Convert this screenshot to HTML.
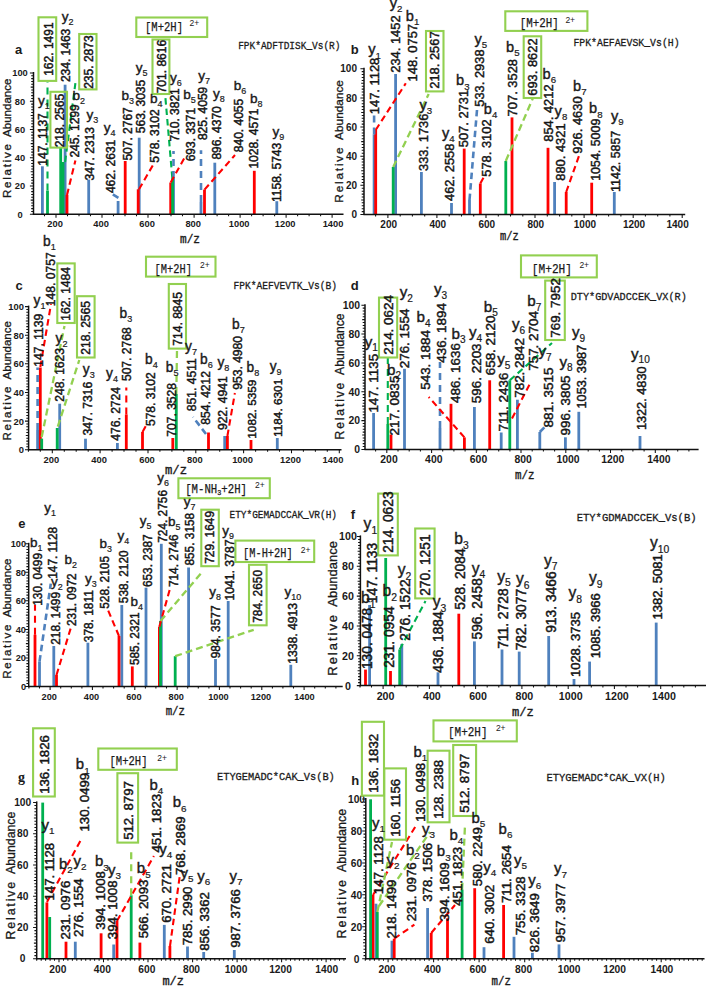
<!DOCTYPE html><html><head><meta charset="utf-8"><style>
*{margin:0;padding:0}
html,body{width:707px;height:987px;overflow:hidden;background:#fff}
svg{display:block}
text{font-family:"Liberation Sans",sans-serif;fill:#1a1a1a}
.let{font-size:13px;font-weight:bold}
.ylab{font-size:11.5px;stroke:#1a1a1a;stroke-width:0.3}
.tick{font-size:9.3px;font-weight:bold}
.mz{font-family:"Liberation Mono",monospace;font-size:12px;stroke:#1a1a1a;stroke-width:0.35}
.pep{font-family:"Liberation Mono",monospace;font-size:11.5px;stroke:#1a1a1a;stroke-width:0.3}
.mtx{font-family:"Liberation Mono",monospace;font-size:12.5px;stroke:#1a1a1a;stroke-width:0.25}
.msup{font-family:"Liberation Sans",sans-serif;font-size:8.5px}
.num{font-size:12.3px;stroke:#111;stroke-width:0.45}
.ion{font-size:14px;stroke:#1a1a1a;stroke-width:0.4}
.sub{font-size:9px;stroke-width:0.2}
.ax{stroke:#111;stroke-width:1.5;fill:none}
.tk{stroke:#111;stroke-width:1.05;fill:none}
.dash{fill:none}
.box{fill:none;stroke:#92d050;stroke-width:2.1}
</style></head><body><svg width="707" height="987" viewBox="0 0 707 987">
<rect width="100%" height="100%" fill="#fff"/>
<text x="15" y="54" class="let">a</text>
<text transform="translate(11.1,198.0) rotate(-90)" class="ylab" style="font-size:11.53px"><tspan letter-spacing="1.75">Relative</tspan><tspan dx="5.51">Abundance</tspan></text>
<rect x="41.0" y="166.3" width="2.8" height="47.9" fill="#4f81bd"/>
<rect x="63.7" y="84.7" width="2.8" height="129.5" fill="#4f81bd"/>
<rect x="87.3" y="179.6" width="2.8" height="34.6" fill="#4f81bd"/>
<rect x="116.7" y="201.0" width="2.8" height="13.2" fill="#4f81bd"/>
<rect x="137.8" y="137.7" width="2.8" height="76.5" fill="#4f81bd"/>
<rect x="172.1" y="178.0" width="2.8" height="36.2" fill="#4f81bd"/>
<rect x="199.6" y="202.0" width="2.8" height="12.2" fill="#4f81bd"/>
<rect x="213.4" y="162.7" width="2.8" height="51.5" fill="#4f81bd"/>
<rect x="275.4" y="201.2" width="2.8" height="13.0" fill="#4f81bd"/>
<rect x="65.6" y="195.0" width="2.8" height="19.2" fill="#ff0000"/>
<rect x="123.8" y="161.0" width="2.8" height="53.2" fill="#ff0000"/>
<rect x="136.8" y="189.3" width="2.8" height="24.9" fill="#ff0000"/>
<rect x="169.3" y="182.5" width="2.8" height="31.7" fill="#ff0000"/>
<rect x="203.1" y="189.6" width="2.8" height="24.6" fill="#ff0000"/>
<rect x="252.9" y="170.8" width="2.8" height="43.4" fill="#ff0000"/>
<rect x="46.1" y="190.6" width="2.8" height="23.6" fill="#00b050"/>
<rect x="59.3" y="148.0" width="2.8" height="66.2" fill="#00b050"/>
<rect x="61.6" y="162.0" width="2.8" height="52.2" fill="#00b050"/>
<rect x="171.2" y="177.8" width="2.8" height="36.4" fill="#00b050"/>
<line x1="47.5" y1="190.6" x2="47.5" y2="82" stroke="#00b050" stroke-width="2.1" stroke-dasharray="7 5" class="dash"/>
<line x1="65.1" y1="162" x2="75.4" y2="83.2" stroke="#00b050" stroke-width="2.1" stroke-dasharray="6.5 4" class="dash"/>
<line x1="67" y1="195" x2="75.4" y2="160.4" stroke="#ff0000" stroke-width="2.1" stroke-dasharray="6.5 4" class="dash"/>
<line x1="118.4" y1="197.8" x2="111.3" y2="193.5" stroke="#4f81bd" stroke-width="2.6" stroke-dasharray="6.5 4" class="dash"/>
<line x1="139" y1="189.3" x2="153.7" y2="163.8" stroke="#ff0000" stroke-width="2.1" stroke-dasharray="6.5 4" class="dash"/>
<line x1="172.3" y1="177.8" x2="165.2" y2="95.3" stroke="#00b050" stroke-width="2.1" stroke-dasharray="6.5 4" class="dash"/>
<line x1="173.5" y1="178" x2="173.5" y2="151" stroke="#4f81bd" stroke-width="2.6" stroke-dasharray="7 5" class="dash"/>
<line x1="170.7" y1="182.5" x2="185.6" y2="155.8" stroke="#ff0000" stroke-width="2.1" stroke-dasharray="6.5 4" class="dash"/>
<line x1="201" y1="202" x2="201" y2="150.3" stroke="#4f81bd" stroke-width="2.6" stroke-dasharray="7 5" class="dash"/>
<line x1="204.5" y1="189.6" x2="235" y2="155" stroke="#ff0000" stroke-width="2.1" stroke-dasharray="6.5 4" class="dash"/>
<line x1="33.5" y1="72.0" x2="33.5" y2="214.8" class="ax"/>
<line x1="32.9" y1="214.2" x2="343.5" y2="214.2" class="ax"/>
<path d="M29.9 214.2H33.5M31.2 211.4H33.5M31.2 208.6H33.5M31.2 205.7H33.5M31.2 202.9H33.5M30.7 200.1H33.5M31.2 197.3H33.5M31.2 194.4H33.5M31.2 191.6H33.5M31.2 188.8H33.5M29.9 186.0H33.5M31.2 183.1H33.5M31.2 180.3H33.5M31.2 177.5H33.5M31.2 174.7H33.5M30.7 171.8H33.5M31.2 169.0H33.5M31.2 166.2H33.5M31.2 163.4H33.5M31.2 160.5H33.5M29.9 157.7H33.5M31.2 154.9H33.5M31.2 152.1H33.5M31.2 149.2H33.5M31.2 146.4H33.5M30.7 143.6H33.5M31.2 140.8H33.5M31.2 138.0H33.5M31.2 135.1H33.5M31.2 132.3H33.5M29.9 129.5H33.5M31.2 126.7H33.5M31.2 123.8H33.5M31.2 121.0H33.5M31.2 118.2H33.5M30.7 115.4H33.5M31.2 112.5H33.5M31.2 109.7H33.5M31.2 106.9H33.5M31.2 104.1H33.5M29.9 101.2H33.5M31.2 98.4H33.5M31.2 95.6H33.5M31.2 92.8H33.5M31.2 89.9H33.5M30.7 87.1H33.5M31.2 84.3H33.5M31.2 81.5H33.5M31.2 78.6H33.5M31.2 75.8H33.5M29.9 73.0H33.5" class="tk"/>
<text x="20.0" y="217.5" class="tick" style="font-size:9.30px" text-anchor="middle">0</text>
<text x="20.0" y="189.3" class="tick" style="font-size:9.30px" text-anchor="middle">20</text>
<text x="20.0" y="161.1" class="tick" style="font-size:9.30px" text-anchor="middle">40</text>
<text x="20.0" y="132.8" class="tick" style="font-size:9.30px" text-anchor="middle">60</text>
<text x="20.0" y="104.6" class="tick" style="font-size:9.30px" text-anchor="middle">80</text>
<text x="20.0" y="76.3" class="tick" style="font-size:9.30px" text-anchor="middle">100</text>
<path d="M44.5 214.2V216.2M56.0 214.2V217.7M67.5 214.2V216.2M79.0 214.2V216.2M90.5 214.2V216.2M102.0 214.2V217.7M113.5 214.2V216.2M125.0 214.2V216.2M136.5 214.2V216.2M148.0 214.2V217.7M159.5 214.2V216.2M171.0 214.2V216.2M182.5 214.2V216.2M194.1 214.2V217.7M205.6 214.2V216.2M217.1 214.2V216.2M228.6 214.2V216.2M240.1 214.2V217.7M251.6 214.2V216.2M263.1 214.2V216.2M274.6 214.2V216.2M286.1 214.2V217.7M297.6 214.2V216.2M309.1 214.2V216.2M320.6 214.2V216.2M332.1 214.2V217.7" class="tk"/>
<text x="55.1" y="227.4" class="tick" style="font-size:9.30px" text-anchor="middle">200</text>
<text x="101.1" y="227.4" class="tick" style="font-size:9.30px" text-anchor="middle">400</text>
<text x="147.1" y="227.4" class="tick" style="font-size:9.30px" text-anchor="middle">600</text>
<text x="193.2" y="227.4" class="tick" style="font-size:9.30px" text-anchor="middle">800</text>
<text x="239.2" y="227.4" class="tick" style="font-size:9.30px" text-anchor="middle">1000</text>
<text x="285.2" y="227.4" class="tick" style="font-size:9.30px" text-anchor="middle">1200</text>
<text x="333.0" y="227.4" class="tick" style="font-size:9.30px" text-anchor="middle">1400</text>
<text x="180" y="243.0" class="mz" textLength="20.0" lengthAdjust="spacingAndGlyphs">m/z</text>
<text x="238.2" y="48.6" class="pep" textLength="102.3" lengthAdjust="spacingAndGlyphs">FPK*ADFTDISK_Vs(R)</text>
<rect x="136.3" y="17.5" width="70.9" height="19.5" class="box"/>
<rect x="38.5" y="17.3" width="17.7" height="63.6" class="box"/>
<rect x="79.2" y="34" width="17.3" height="55.4" class="box"/>
<rect x="50.4" y="91.8" width="16.6" height="55.8" class="box"/>
<rect x="152.5" y="39.5" width="16.9" height="54.5" class="box"/>
<text x="145" y="30.5" class="mtx" textLength="38.0" lengthAdjust="spacingAndGlyphs">[M+2H]</text>
<text x="189.5" y="26.0" class="msup">2+</text>
<text transform="translate(52.6,75.8) rotate(-90)" class="num" style="font-size:12.00px">162. 1491</text>
<text transform="translate(69.7,82.1) rotate(-90)" class="num" style="font-size:12.00px">234. 1463</text>
<text transform="translate(93.1,88.8) rotate(-90)" class="num" style="font-size:12.00px">235. 2873</text>
<text transform="translate(63.6,147.3) rotate(-90)" class="num" style="font-size:12.00px">218. 2565</text>
<text transform="translate(46.5,165.7) rotate(-90)" class="num" style="font-size:12.00px">147. 1137</text>
<text transform="translate(79.0,157.6) rotate(-90)" class="num" style="font-size:12.00px">245. 1299</text>
<text transform="translate(94.4,180.4) rotate(-90)" class="num" style="font-size:12.00px">347. 2313</text>
<text transform="translate(114.5,193.1) rotate(-90)" class="num" style="font-size:12.00px">462. 2631</text>
<text transform="translate(131.5,160.6) rotate(-90)" class="num" style="font-size:12.00px">507. 2767</text>
<text transform="translate(144.9,133.2) rotate(-90)" class="num" style="font-size:12.00px">563. 3035</text>
<text transform="translate(159.4,162.7) rotate(-90)" class="num" style="font-size:12.00px">578. 3102</text>
<text transform="translate(166.3,93.3) rotate(-90)" class="num" style="font-size:12.00px">701. 8616</text>
<text transform="translate(179.0,141.6) rotate(-90)" class="num" style="font-size:12.00px">710. 3821</text>
<text transform="translate(195.3,161.3) rotate(-90)" class="num" style="font-size:12.00px">693. 3371</text>
<text transform="translate(207.3,140.1) rotate(-90)" class="num" style="font-size:12.00px">825. 4059</text>
<text transform="translate(221.1,159.6) rotate(-90)" class="num" style="font-size:12.00px">896. 4370</text>
<text transform="translate(242.5,152.2) rotate(-90)" class="num" style="font-size:12.00px">840. 4055</text>
<text transform="translate(258.3,168.6) rotate(-90)" class="num" style="font-size:12.00px">1028. 4571</text>
<text transform="translate(280.5,202.0) rotate(-90)" class="num" style="font-size:12.00px">1158. 5743</text>
<text x="61.8" y="21.2" class="ion" style="font-size:13.60px">y<tspan class="sub" style="font-size:9.00px" dy="4.0">2</tspan></text>
<text x="38" y="104.6" class="ion" style="font-size:13.60px">y<tspan class="sub" style="font-size:9.00px" dy="4.0">1</tspan></text>
<text x="72.5" y="100.0" class="ion" style="font-size:13.60px">b<tspan class="sub" style="font-size:9.00px" dy="4.0">2</tspan></text>
<text x="86.5" y="119.3" class="ion" style="font-size:13.60px">y<tspan class="sub" style="font-size:9.00px" dy="4.0">3</tspan></text>
<text x="103.8" y="131.5" class="ion" style="font-size:13.60px">y<tspan class="sub" style="font-size:9.00px" dy="4.0">4</tspan></text>
<text x="121.5" y="100.1" class="ion" style="font-size:13.60px">b<tspan class="sub" style="font-size:9.00px" dy="4.0">3</tspan></text>
<text x="135.8" y="72.0" class="ion" style="font-size:13.60px">y<tspan class="sub" style="font-size:9.00px" dy="4.0">5</tspan></text>
<text x="150" y="102.9" class="ion" style="font-size:13.60px">b<tspan class="sub" style="font-size:9.00px" dy="4.0">4</tspan></text>
<text x="169.9" y="81.5" class="ion" style="font-size:13.60px">y<tspan class="sub" style="font-size:9.00px" dy="4.0">6</tspan></text>
<text x="183.3" y="99.2" class="ion" style="font-size:13.60px">b<tspan class="sub" style="font-size:9.00px" dy="4.0">5</tspan></text>
<text x="198.2" y="80.0" class="ion" style="font-size:13.60px">y<tspan class="sub" style="font-size:9.00px" dy="4.0">7</tspan></text>
<text x="213" y="98.0" class="ion" style="font-size:13.60px">y<tspan class="sub" style="font-size:9.00px" dy="4.0">8</tspan></text>
<text x="233.8" y="89.8" class="ion" style="font-size:13.60px">b<tspan class="sub" style="font-size:9.00px" dy="4.0">6</tspan></text>
<text x="250" y="103.4" class="ion" style="font-size:13.60px">b<tspan class="sub" style="font-size:9.00px" dy="4.0">8</tspan></text>
<text x="272.5" y="136.0" class="ion" style="font-size:13.60px">y<tspan class="sub" style="font-size:9.00px" dy="4.0">9</tspan></text>
<text x="350.7" y="54" class="let">b</text>
<text transform="translate(343.3,202.7) rotate(-90)" class="ylab" style="font-size:11.84px"><tspan letter-spacing="1.80">Relative</tspan><tspan dx="5.66">Abundance</tspan></text>
<rect x="372.7" y="134.4" width="2.8" height="80.1" fill="#4f81bd"/>
<rect x="394.2" y="74.0" width="2.8" height="140.5" fill="#4f81bd"/>
<rect x="420.0" y="172.0" width="2.8" height="42.5" fill="#4f81bd"/>
<rect x="450.1" y="203.0" width="2.8" height="11.5" fill="#4f81bd"/>
<rect x="468.1" y="200.0" width="2.8" height="14.5" fill="#4f81bd"/>
<rect x="553.2" y="182.0" width="2.8" height="32.5" fill="#4f81bd"/>
<rect x="612.9" y="192.0" width="2.8" height="22.5" fill="#4f81bd"/>
<rect x="374.3" y="130.0" width="2.8" height="84.5" fill="#ff0000"/>
<rect x="462.8" y="148.6" width="2.8" height="65.9" fill="#ff0000"/>
<rect x="478.9" y="183.5" width="2.8" height="31.0" fill="#ff0000"/>
<rect x="510.6" y="117.4" width="2.8" height="97.1" fill="#ff0000"/>
<rect x="546.6" y="147.8" width="2.8" height="66.7" fill="#ff0000"/>
<rect x="564.8" y="192.0" width="2.8" height="22.5" fill="#ff0000"/>
<rect x="590.3" y="182.7" width="2.8" height="31.8" fill="#ff0000"/>
<rect x="391.8" y="167.0" width="2.8" height="47.5" fill="#00b050"/>
<rect x="504.4" y="161.0" width="2.8" height="53.5" fill="#00b050"/>
<line x1="374.1" y1="134.4" x2="374.1" y2="113" stroke="#4f81bd" stroke-width="2.6" stroke-dasharray="7 5" class="dash"/>
<line x1="375.7" y1="130" x2="405.8" y2="83.3" stroke="#ff0000" stroke-width="2.1" stroke-dasharray="6.5 4" class="dash"/>
<line x1="393.2" y1="167" x2="428.7" y2="94" stroke="#92d050" stroke-width="2.3" stroke-dasharray="7 4" class="dash"/>
<line x1="469.5" y1="200" x2="477" y2="110" stroke="#4f81bd" stroke-width="2.6" stroke-dasharray="6.5 4" class="dash"/>
<line x1="480.3" y1="183.5" x2="485" y2="175" stroke="#ff0000" stroke-width="2.1" stroke-dasharray="6.5 4" class="dash"/>
<line x1="505.8" y1="161" x2="533" y2="98" stroke="#92d050" stroke-width="2.3" stroke-dasharray="7 4" class="dash"/>
<line x1="566.2" y1="192" x2="579.3" y2="155" stroke="#ff0000" stroke-width="2.1" stroke-dasharray="6.5 4" class="dash"/>
<line x1="364.0" y1="67.7" x2="364.0" y2="215.1" class="ax"/>
<line x1="363.4" y1="214.5" x2="685.2" y2="214.5" class="ax"/>
<path d="M360.4 214.5H364.0M361.7 211.6H364.0M361.7 208.7H364.0M361.7 205.8H364.0M361.7 202.8H364.0M361.2 199.9H364.0M361.7 197.0H364.0M361.7 194.1H364.0M361.7 191.2H364.0M361.7 188.3H364.0M360.4 185.3H364.0M361.7 182.4H364.0M361.7 179.5H364.0M361.7 176.6H364.0M361.7 173.7H364.0M361.2 170.8H364.0M361.7 167.8H364.0M361.7 164.9H364.0M361.7 162.0H364.0M361.7 159.1H364.0M360.4 156.2H364.0M361.7 153.3H364.0M361.7 150.3H364.0M361.7 147.4H364.0M361.7 144.5H364.0M361.2 141.6H364.0M361.7 138.7H364.0M361.7 135.8H364.0M361.7 132.9H364.0M361.7 129.9H364.0M360.4 127.0H364.0M361.7 124.1H364.0M361.7 121.2H364.0M361.7 118.3H364.0M361.7 115.4H364.0M361.2 112.4H364.0M361.7 109.5H364.0M361.7 106.6H364.0M361.7 103.7H364.0M361.7 100.8H364.0M360.4 97.9H364.0M361.7 94.9H364.0M361.7 92.0H364.0M361.7 89.1H364.0M361.7 86.2H364.0M361.2 83.3H364.0M361.7 80.4H364.0M361.7 77.4H364.0M361.7 74.5H364.0M361.7 71.6H364.0M360.4 68.7H364.0" class="tk"/>
<text x="357.0" y="218.1" class="tick" style="font-size:10.01px" text-anchor="end">0</text>
<text x="357.0" y="188.9" class="tick" style="font-size:10.01px" text-anchor="end">20</text>
<text x="357.0" y="159.8" class="tick" style="font-size:10.01px" text-anchor="end">40</text>
<text x="357.0" y="130.6" class="tick" style="font-size:10.01px" text-anchor="end">60</text>
<text x="357.0" y="101.5" class="tick" style="font-size:10.01px" text-anchor="end">80</text>
<text x="357.0" y="72.3" class="tick" style="font-size:10.01px" text-anchor="end">100</text>
<path d="M375.6 214.5V216.5M387.9 214.5V218.0M400.2 214.5V216.5M412.4 214.5V216.5M424.7 214.5V216.5M436.9 214.5V218.0M449.2 214.5V216.5M461.5 214.5V216.5M473.7 214.5V216.5M486.0 214.5V218.0M498.3 214.5V216.5M510.5 214.5V216.5M522.8 214.5V216.5M535.0 214.5V218.0M547.3 214.5V216.5M559.6 214.5V216.5M571.8 214.5V216.5M584.1 214.5V218.0M596.4 214.5V216.5M608.6 214.5V216.5M620.9 214.5V216.5M633.2 214.5V218.0M645.4 214.5V216.5M657.7 214.5V216.5M669.9 214.5V216.5M682.2 214.5V218.0" class="tk"/>
<text x="388.7" y="228.2" class="tick" style="font-size:10.01px" text-anchor="middle">200</text>
<text x="437.8" y="228.2" class="tick" style="font-size:10.01px" text-anchor="middle">400</text>
<text x="486.8" y="228.2" class="tick" style="font-size:10.01px" text-anchor="middle">600</text>
<text x="535.8" y="228.2" class="tick" style="font-size:10.01px" text-anchor="middle">800</text>
<text x="584.9" y="228.2" class="tick" style="font-size:10.01px" text-anchor="middle">1000</text>
<text x="634.0" y="228.2" class="tick" style="font-size:10.01px" text-anchor="middle">1200</text>
<text x="677.6" y="228.2" class="tick" style="font-size:10.01px" text-anchor="middle">1400</text>
<text x="500" y="239.7" class="mz" textLength="18.7" lengthAdjust="spacingAndGlyphs">m/z</text>
<text x="573.4" y="46.0" class="pep" textLength="106.2" lengthAdjust="spacingAndGlyphs">FPK*AEFAEVSK_Vs(H)</text>
<rect x="505.3" y="11.3" width="82.1" height="19.6" class="box"/>
<rect x="426" y="31" width="17.5" height="60.4" class="box"/>
<rect x="523.7" y="36.3" width="17.5" height="61.7" class="box"/>
<text x="519.7" y="27.3" class="mtx" textLength="39.0" lengthAdjust="spacingAndGlyphs">[M+2H]</text>
<text x="565.4" y="22.8" class="msup">2+</text>
<text transform="translate(379.0,114.2) rotate(-90)" class="num" style="font-size:12.91px">147. 1128</text>
<text transform="translate(399.7,72.8) rotate(-90)" class="num" style="font-size:12.91px">234. 1452</text>
<text transform="translate(417.2,81.4) rotate(-90)" class="num" style="font-size:12.91px">148. 0757</text>
<text transform="translate(439.4,88.8) rotate(-90)" class="num" style="font-size:12.91px">218. 2567</text>
<text transform="translate(428.3,171.0) rotate(-90)" class="num" style="font-size:12.91px">333. 1736</text>
<text transform="translate(454.1,201.0) rotate(-90)" class="num" style="font-size:12.91px">462. 2558</text>
<text transform="translate(468.2,147.3) rotate(-90)" class="num" style="font-size:12.91px">507. 2731</text>
<text transform="translate(484.4,106.8) rotate(-90)" class="num" style="font-size:12.91px">533. 2938</text>
<text transform="translate(491.1,176.8) rotate(-90)" class="num" style="font-size:12.91px">578. 3102</text>
<text transform="translate(516.6,116.4) rotate(-90)" class="num" style="font-size:12.91px">707. 3528</text>
<text transform="translate(537.1,95.8) rotate(-90)" class="num" style="font-size:12.91px">693. 8622</text>
<text transform="translate(552.6,141.8) rotate(-90)" class="num" style="font-size:12.91px">854. 4212</text>
<text transform="translate(564.6,180.8) rotate(-90)" class="num" style="font-size:12.91px">880. 4321</text>
<text transform="translate(582.1,153.8) rotate(-90)" class="num" style="font-size:12.91px">926. 4630</text>
<text transform="translate(599.5,180.8) rotate(-90)" class="num" style="font-size:12.42px">1054. 5009</text>
<text transform="translate(620.3,191.9) rotate(-90)" class="num" style="font-size:12.42px">1142. 5857</text>
<text x="368.2" y="54.4" class="ion" style="font-size:14.63px">y<tspan class="sub" style="font-size:9.68px" dy="4.3">1</tspan></text>
<text x="389.7" y="8.0" class="ion" style="font-size:14.63px">y<tspan class="sub" style="font-size:9.68px" dy="4.3">2</tspan></text>
<text x="405.8" y="20.6" class="ion" style="font-size:14.63px">b<tspan class="sub" style="font-size:9.68px" dy="4.3">1</tspan></text>
<text x="419.5" y="109.8" class="ion" style="font-size:14.63px">y<tspan class="sub" style="font-size:9.68px" dy="4.3">3</tspan></text>
<text x="442" y="137.7" class="ion" style="font-size:14.63px">y<tspan class="sub" style="font-size:9.68px" dy="4.3">4</tspan></text>
<text x="456" y="85.2" class="ion" style="font-size:14.63px">b<tspan class="sub" style="font-size:9.68px" dy="4.3">3</tspan></text>
<text x="474.4" y="43.7" class="ion" style="font-size:14.63px">y<tspan class="sub" style="font-size:9.68px" dy="4.3">5</tspan></text>
<text x="483.8" y="113.6" class="ion" style="font-size:14.63px">b<tspan class="sub" style="font-size:9.68px" dy="4.3">4</tspan></text>
<text x="506" y="51.6" class="ion" style="font-size:14.63px">b<tspan class="sub" style="font-size:9.68px" dy="4.3">5</tspan></text>
<text x="542.5" y="78.6" class="ion" style="font-size:14.63px">b<tspan class="sub" style="font-size:9.68px" dy="4.3">6</tspan></text>
<text x="554.6" y="116.0" class="ion" style="font-size:14.63px">y<tspan class="sub" style="font-size:9.68px" dy="4.3">8</tspan></text>
<text x="573" y="90.6" class="ion" style="font-size:14.63px">b<tspan class="sub" style="font-size:9.68px" dy="4.3">7</tspan></text>
<text x="589.1" y="113.2" class="ion" style="font-size:14.63px">b<tspan class="sub" style="font-size:9.68px" dy="4.3">8</tspan></text>
<text x="611" y="120.5" class="ion" style="font-size:14.63px">y<tspan class="sub" style="font-size:9.68px" dy="4.3">9</tspan></text>
<text x="15.6" y="290" class="let">c</text>
<text transform="translate(10.6,440.5) rotate(-90)" class="ylab" style="font-size:11.52px"><tspan letter-spacing="1.75">Relative</tspan><tspan dx="5.51">Abundance</tspan></text>
<rect x="36.2" y="430.0" width="2.8" height="19.7" fill="#4f81bd"/>
<rect x="58.3" y="403.7" width="2.8" height="46.0" fill="#4f81bd"/>
<rect x="84.1" y="438.7" width="2.8" height="11.0" fill="#4f81bd"/>
<rect x="116.0" y="443.0" width="2.8" height="6.7" fill="#4f81bd"/>
<rect x="223.3" y="436.0" width="2.8" height="13.7" fill="#4f81bd"/>
<rect x="275.9" y="438.0" width="2.8" height="11.7" fill="#4f81bd"/>
<rect x="38.9" y="367.5" width="2.8" height="82.2" fill="#ff0000"/>
<rect x="124.9" y="414.5" width="2.8" height="35.2" fill="#ff0000"/>
<rect x="141.1" y="432.0" width="2.8" height="17.7" fill="#ff0000"/>
<rect x="171.4" y="438.0" width="2.8" height="11.7" fill="#ff0000"/>
<rect x="207.1" y="432.5" width="2.8" height="17.2" fill="#ff0000"/>
<rect x="226.0" y="436.0" width="2.8" height="13.7" fill="#ff0000"/>
<rect x="249.6" y="440.0" width="2.8" height="9.7" fill="#ff0000"/>
<rect x="40.3" y="438.6" width="2.8" height="11.1" fill="#00b050"/>
<rect x="55.8" y="428.0" width="2.8" height="21.7" fill="#00b050"/>
<rect x="174.9" y="394.0" width="2.8" height="55.7" fill="#00b050"/>
<line x1="37.6" y1="430" x2="37.6" y2="367.4" stroke="#4f81bd" stroke-width="2.6" stroke-dasharray="7 5" class="dash"/>
<line x1="40.3" y1="367" x2="51" y2="304" stroke="#ff0000" stroke-width="2.1" stroke-dasharray="6.5 4" class="dash"/>
<line x1="41.7" y1="437" x2="64.5" y2="326" stroke="#92d050" stroke-width="2.3" stroke-dasharray="7 4" class="dash"/>
<line x1="57.8" y1="426.6" x2="79.3" y2="360" stroke="#92d050" stroke-width="2.3" stroke-dasharray="7 4" class="dash"/>
<line x1="126.3" y1="414.5" x2="126.3" y2="387.6" stroke="#ff0000" stroke-width="2.1" stroke-dasharray="7 5" class="dash"/>
<line x1="142.5" y1="432" x2="147" y2="424" stroke="#ff0000" stroke-width="2.1" stroke-dasharray="6.5 4" class="dash"/>
<line x1="176.3" y1="394" x2="177" y2="350" stroke="#92d050" stroke-width="2.3" stroke-dasharray="7 5" class="dash"/>
<line x1="206" y1="434" x2="193" y2="417" stroke="#4f81bd" stroke-width="2.6" stroke-dasharray="6.5 4" class="dash"/>
<line x1="227.4" y1="436" x2="234.9" y2="393" stroke="#ff0000" stroke-width="2.1" stroke-dasharray="6.5 4" class="dash"/>
<line x1="28.6" y1="305.6" x2="28.6" y2="450.3" class="ax"/>
<line x1="28.0" y1="449.7" x2="341.5" y2="449.7" class="ax"/>
<path d="M25.0 449.7H28.6M26.3 446.8H28.6M26.3 444.0H28.6M26.3 441.1H28.6M26.3 438.3H28.6M25.8 435.4H28.6M26.3 432.5H28.6M26.3 429.7H28.6M26.3 426.8H28.6M26.3 423.9H28.6M25.0 421.1H28.6M26.3 418.2H28.6M26.3 415.4H28.6M26.3 412.5H28.6M26.3 409.6H28.6M25.8 406.8H28.6M26.3 403.9H28.6M26.3 401.0H28.6M26.3 398.2H28.6M26.3 395.3H28.6M25.0 392.5H28.6M26.3 389.6H28.6M26.3 386.7H28.6M26.3 383.9H28.6M26.3 381.0H28.6M25.8 378.1H28.6M26.3 375.3H28.6M26.3 372.4H28.6M26.3 369.6H28.6M26.3 366.7H28.6M25.0 363.8H28.6M26.3 361.0H28.6M26.3 358.1H28.6M26.3 355.3H28.6M26.3 352.4H28.6M25.8 349.5H28.6M26.3 346.7H28.6M26.3 343.8H28.6M26.3 340.9H28.6M26.3 338.1H28.6M25.0 335.2H28.6M26.3 332.4H28.6M26.3 329.5H28.6M26.3 326.6H28.6M26.3 323.8H28.6M25.8 320.9H28.6M26.3 318.0H28.6M26.3 315.2H28.6M26.3 312.3H28.6M26.3 309.5H28.6M25.0 306.6H28.6" class="tk"/>
<text x="24.0" y="453.1" class="tick" style="font-size:9.39px" text-anchor="end">0</text>
<text x="24.0" y="424.5" class="tick" style="font-size:9.39px" text-anchor="end">20</text>
<text x="24.0" y="395.8" class="tick" style="font-size:9.39px" text-anchor="end">40</text>
<text x="24.0" y="367.2" class="tick" style="font-size:9.39px" text-anchor="end">60</text>
<text x="24.0" y="338.6" class="tick" style="font-size:9.39px" text-anchor="end">80</text>
<text x="24.0" y="310.0" class="tick" style="font-size:9.39px" text-anchor="end">100</text>
<path d="M28.4 449.7V451.7M40.3 449.7V451.7M52.3 449.7V453.2M64.3 449.7V451.7M76.2 449.7V451.7M88.2 449.7V451.7M100.1 449.7V453.2M112.1 449.7V451.7M124.0 449.7V451.7M136.0 449.7V451.7M148.0 449.7V453.2M159.9 449.7V451.7M171.9 449.7V451.7M183.8 449.7V451.7M195.8 449.7V453.2M207.8 449.7V451.7M219.7 449.7V451.7M231.7 449.7V451.7M243.6 449.7V453.2M255.6 449.7V451.7M267.6 449.7V451.7M279.5 449.7V451.7M291.5 449.7V453.2M303.4 449.7V451.7M315.4 449.7V451.7M327.3 449.7V451.7M339.3 449.7V453.2" class="tk"/>
<text x="51.3" y="463.0" class="tick" style="font-size:9.39px" text-anchor="middle">200</text>
<text x="99.1" y="463.0" class="tick" style="font-size:9.39px" text-anchor="middle">400</text>
<text x="147.0" y="463.0" class="tick" style="font-size:9.39px" text-anchor="middle">600</text>
<text x="194.8" y="463.0" class="tick" style="font-size:9.39px" text-anchor="middle">800</text>
<text x="242.6" y="463.0" class="tick" style="font-size:9.39px" text-anchor="middle">1000</text>
<text x="290.5" y="463.0" class="tick" style="font-size:9.39px" text-anchor="middle">1200</text>
<text x="333.0" y="463.0" class="tick" style="font-size:9.39px" text-anchor="middle">1400</text>
<text x="165" y="474.0" class="mz" textLength="22.0" lengthAdjust="spacingAndGlyphs">m/z</text>
<text x="233.5" y="289.3" class="pep" textLength="103.5" lengthAdjust="spacingAndGlyphs">FPK*AEFVEVTK_Vs(B)</text>
<rect x="146" y="256.7" width="69.5" height="19.9" class="box"/>
<rect x="57.3" y="263.4" width="17.4" height="59.6" class="box"/>
<rect x="77" y="296.2" width="17.6" height="61.3" class="box"/>
<rect x="168.8" y="284" width="17.2" height="64.6" class="box"/>
<text x="154.6" y="272.5" class="mtx" textLength="37.3" lengthAdjust="spacingAndGlyphs">[M+2H]</text>
<text x="200" y="268.0" class="msup">2+</text>
<text transform="translate(55.4,306.2) rotate(-90)" class="num" style="font-size:12.12px">148. 0757</text>
<text transform="translate(43.4,366.8) rotate(-90)" class="num" style="font-size:12.12px">147. 1139</text>
<text transform="translate(70.4,320.8) rotate(-90)" class="num" style="font-size:12.12px">162. 1484</text>
<text transform="translate(90.2,354.8) rotate(-90)" class="num" style="font-size:12.12px">218. 2565</text>
<text transform="translate(64.1,401.8) rotate(-90)" class="num" style="font-size:12.12px">248. 1623</text>
<text transform="translate(92.4,435.6) rotate(-90)" class="num" style="font-size:12.12px">347. 7316</text>
<text transform="translate(120.0,440.8) rotate(-90)" class="num" style="font-size:12.12px">476. 2724</text>
<text transform="translate(130.7,381.1) rotate(-90)" class="num" style="font-size:12.12px">507. 2768</text>
<text transform="translate(155.4,426.1) rotate(-90)" class="num" style="font-size:12.12px">578. 3102</text>
<text transform="translate(176.4,436.8) rotate(-90)" class="num" style="font-size:12.12px">707. 3528</text>
<text transform="translate(181.8,345.8) rotate(-90)" class="num" style="font-size:12.12px">714. 8845</text>
<text transform="translate(196.3,411.2) rotate(-90)" class="num" style="font-size:12.12px">851. 4511</text>
<text transform="translate(209.7,424.8) rotate(-90)" class="num" style="font-size:12.12px">854. 4212</text>
<text transform="translate(227.2,430.1) rotate(-90)" class="num" style="font-size:12.12px">922. 4941</text>
<text transform="translate(242.0,389.8) rotate(-90)" class="num" style="font-size:12.12px">953. 4980</text>
<text transform="translate(255.9,438.7) rotate(-90)" class="num" style="font-size:11.82px">1082. 5359</text>
<text transform="translate(281.9,437.0) rotate(-90)" class="num" style="font-size:11.82px">1184. 6301</text>
<text x="43" y="245.6" class="ion" style="font-size:13.74px">b<tspan class="sub" style="font-size:9.09px" dy="4.0">1</tspan></text>
<text x="33.6" y="305.0" class="ion" style="font-size:13.74px">y<tspan class="sub" style="font-size:9.09px" dy="4.0">1</tspan></text>
<text x="55.6" y="342.6" class="ion" style="font-size:13.74px">y<tspan class="sub" style="font-size:9.09px" dy="4.0">2</tspan></text>
<text x="82.8" y="373.5" class="ion" style="font-size:13.74px">y<tspan class="sub" style="font-size:9.09px" dy="4.0">3</tspan></text>
<text x="106" y="377.5" class="ion" style="font-size:13.74px">y<tspan class="sub" style="font-size:9.09px" dy="4.0">4</tspan></text>
<text x="119.6" y="318.3" class="ion" style="font-size:13.74px">b<tspan class="sub" style="font-size:9.09px" dy="4.0">3</tspan></text>
<text x="145" y="364.0" class="ion" style="font-size:13.74px">b<tspan class="sub" style="font-size:9.09px" dy="4.0">4</tspan></text>
<text x="165.8" y="372.1" class="ion" style="font-size:13.74px">b<tspan class="sub" style="font-size:9.09px" dy="4.0">5</tspan></text>
<text x="185" y="350.6" class="ion" style="font-size:13.74px">y<tspan class="sub" style="font-size:9.09px" dy="4.0">7</tspan></text>
<text x="200" y="364.0" class="ion" style="font-size:13.74px">b<tspan class="sub" style="font-size:9.09px" dy="4.0">6</tspan></text>
<text x="217.4" y="366.7" class="ion" style="font-size:13.74px">y<tspan class="sub" style="font-size:9.09px" dy="4.0">8</tspan></text>
<text x="232" y="329.1" class="ion" style="font-size:13.74px">b<tspan class="sub" style="font-size:9.09px" dy="4.0">7</tspan></text>
<text x="246.5" y="372.0" class="ion" style="font-size:13.74px">b<tspan class="sub" style="font-size:9.09px" dy="4.0">8</tspan></text>
<text x="269.7" y="370.5" class="ion" style="font-size:13.74px">y<tspan class="sub" style="font-size:9.09px" dy="4.0">9</tspan></text>
<text x="350.7" y="290" class="let">d</text>
<text transform="translate(343.8,439.5) rotate(-90)" class="ylab" style="font-size:12.16px"><tspan letter-spacing="1.85">Relative</tspan><tspan dx="5.82">Abundance</tspan></text>
<rect x="372.2" y="413.0" width="2.8" height="36.4" fill="#4f81bd"/>
<rect x="403.1" y="368.8" width="2.8" height="80.6" fill="#4f81bd"/>
<rect x="438.6" y="428.0" width="2.8" height="21.4" fill="#4f81bd"/>
<rect x="473.0" y="407.0" width="2.8" height="42.4" fill="#4f81bd"/>
<rect x="499.8" y="432.5" width="2.8" height="16.9" fill="#4f81bd"/>
<rect x="516.0" y="399.7" width="2.8" height="49.7" fill="#4f81bd"/>
<rect x="538.4" y="432.0" width="2.8" height="17.4" fill="#4f81bd"/>
<rect x="564.0" y="437.3" width="2.8" height="12.1" fill="#4f81bd"/>
<rect x="577.4" y="411.8" width="2.8" height="37.6" fill="#4f81bd"/>
<rect x="638.6" y="436.0" width="2.8" height="13.4" fill="#4f81bd"/>
<rect x="389.6" y="434.6" width="2.8" height="14.8" fill="#ff0000"/>
<rect x="449.6" y="403.8" width="2.8" height="45.6" fill="#ff0000"/>
<rect x="463.0" y="437.4" width="2.8" height="12.0" fill="#ff0000"/>
<rect x="488.3" y="380.3" width="2.8" height="69.1" fill="#ff0000"/>
<rect x="386.4" y="424.0" width="2.8" height="25.4" fill="#00b050"/>
<rect x="508.4" y="380.3" width="2.8" height="69.1" fill="#00b050"/>
<line x1="387.8" y1="424" x2="387.8" y2="358" stroke="#00b050" stroke-width="2.1" stroke-dasharray="7 5" class="dash"/>
<line x1="440" y1="428" x2="440" y2="362" stroke="#4f81bd" stroke-width="2.6" stroke-dasharray="7 5" class="dash"/>
<line x1="464.4" y1="437.4" x2="428.7" y2="397" stroke="#ff0000" stroke-width="2.1" stroke-dasharray="6.5 4" class="dash"/>
<line x1="509.8" y1="380.3" x2="552" y2="343" stroke="#00b050" stroke-width="2.1" stroke-dasharray="6.5 4" class="dash"/>
<line x1="512" y1="418.5" x2="530" y2="383.6" stroke="#ff0000" stroke-width="2.1" stroke-dasharray="6.5 4" class="dash"/>
<line x1="539.8" y1="432" x2="545.2" y2="426.6" stroke="#4f81bd" stroke-width="2.6" stroke-dasharray="6.5 4" class="dash"/>
<line x1="365.0" y1="304.2" x2="365.0" y2="450.0" class="ax"/>
<line x1="364.4" y1="449.4" x2="698.6" y2="449.4" class="ax"/>
<path d="M361.4 449.4H365.0M362.7 446.5H365.0M362.7 443.6H365.0M362.7 440.7H365.0M362.7 437.9H365.0M362.2 435.0H365.0M362.7 432.1H365.0M362.7 429.2H365.0M362.7 426.3H365.0M362.7 423.4H365.0M361.4 420.6H365.0M362.7 417.7H365.0M362.7 414.8H365.0M362.7 411.9H365.0M362.7 409.0H365.0M362.2 406.1H365.0M362.7 403.3H365.0M362.7 400.4H365.0M362.7 397.5H365.0M362.7 394.6H365.0M361.4 391.7H365.0M362.7 388.8H365.0M362.7 386.0H365.0M362.7 383.1H365.0M362.7 380.2H365.0M362.2 377.3H365.0M362.7 374.4H365.0M362.7 371.5H365.0M362.7 368.6H365.0M362.7 365.8H365.0M361.4 362.9H365.0M362.7 360.0H365.0M362.7 357.1H365.0M362.7 354.2H365.0M362.7 351.3H365.0M362.2 348.5H365.0M362.7 345.6H365.0M362.7 342.7H365.0M362.7 339.8H365.0M362.7 336.9H365.0M361.4 334.0H365.0M362.7 331.2H365.0M362.7 328.3H365.0M362.7 325.4H365.0M362.7 322.5H365.0M362.2 319.6H365.0M362.7 316.7H365.0M362.7 313.9H365.0M362.7 311.0H365.0M362.7 308.1H365.0M361.4 305.2H365.0" class="tk"/>
<text x="360.0" y="453.1" class="tick" style="font-size:10.42px" text-anchor="end">0</text>
<text x="360.0" y="424.3" class="tick" style="font-size:10.42px" text-anchor="end">20</text>
<text x="360.0" y="395.5" class="tick" style="font-size:10.42px" text-anchor="end">40</text>
<text x="360.0" y="366.6" class="tick" style="font-size:10.42px" text-anchor="end">60</text>
<text x="360.0" y="337.8" class="tick" style="font-size:10.42px" text-anchor="end">80</text>
<text x="360.0" y="308.9" class="tick" style="font-size:10.42px" text-anchor="end">100</text>
<path d="M375.6 449.4V451.4M386.8 449.4V452.9M398.0 449.4V451.4M409.2 449.4V451.4M420.4 449.4V451.4M431.6 449.4V452.9M442.7 449.4V451.4M453.9 449.4V451.4M465.1 449.4V451.4M476.3 449.4V452.9M487.5 449.4V451.4M498.7 449.4V451.4M509.9 449.4V451.4M521.0 449.4V452.9M532.2 449.4V451.4M543.4 449.4V451.4M554.6 449.4V451.4M565.8 449.4V452.9M577.0 449.4V451.4M588.2 449.4V451.4M599.4 449.4V451.4M610.5 449.4V452.9M621.7 449.4V451.4M632.9 449.4V451.4M644.1 449.4V451.4M655.3 449.4V452.9M666.5 449.4V451.4M677.7 449.4V451.4M688.9 449.4V451.4" class="tk"/>
<text x="389.0" y="463.4" class="tick" style="font-size:10.42px" text-anchor="middle">200</text>
<text x="433.8" y="463.4" class="tick" style="font-size:10.42px" text-anchor="middle">400</text>
<text x="478.5" y="463.4" class="tick" style="font-size:10.42px" text-anchor="middle">600</text>
<text x="523.2" y="463.4" class="tick" style="font-size:10.42px" text-anchor="middle">800</text>
<text x="568.0" y="463.4" class="tick" style="font-size:10.42px" text-anchor="middle">1000</text>
<text x="612.8" y="463.4" class="tick" style="font-size:10.42px" text-anchor="middle">1200</text>
<text x="658.9" y="463.4" class="tick" style="font-size:10.42px" text-anchor="middle">1400</text>
<text x="515" y="479.0" class="mz" textLength="19.5" lengthAdjust="spacingAndGlyphs">m/z</text>
<text x="570.7" y="300.0" class="pep" textLength="116.1" lengthAdjust="spacingAndGlyphs">DTY*GDVADCCEK_VX(R)</text>
<rect x="521" y="255.4" width="75.8" height="22.0" class="box"/>
<rect x="379" y="297.6" width="18.2" height="59.9" class="box"/>
<rect x="545.2" y="280.6" width="19.6" height="59.4" class="box"/>
<text x="531.8" y="272.5" class="mtx" textLength="40.2" lengthAdjust="spacingAndGlyphs">[M+2H]</text>
<text x="579.4" y="268.0" class="msup">2+</text>
<text transform="translate(392.8,354.8) rotate(-90)" class="num" style="font-size:13.44px">214. 0624</text>
<text transform="translate(409.3,368.3) rotate(-90)" class="num" style="font-size:13.44px">276. 1554</text>
<text transform="translate(378.4,412.6) rotate(-90)" class="num" style="font-size:13.44px">147. 1135</text>
<text transform="translate(398.5,435.4) rotate(-90)" class="num" style="font-size:13.44px">217. 0835</text>
<text transform="translate(429.5,389.8) rotate(-90)" class="num" style="font-size:13.44px">543. 1884</text>
<text transform="translate(446.4,362.8) rotate(-90)" class="num" style="font-size:13.44px">436. 1894</text>
<text transform="translate(460.2,402.9) rotate(-90)" class="num" style="font-size:13.44px">486. 1636</text>
<text transform="translate(480.5,403.2) rotate(-90)" class="num" style="font-size:13.44px">596. 2203</text>
<text transform="translate(495.3,375.3) rotate(-90)" class="num" style="font-size:13.44px">658. 2120</text>
<text transform="translate(507.8,431.4) rotate(-90)" class="num" style="font-size:13.44px">711. 2436</text>
<text transform="translate(523.5,397.8) rotate(-90)" class="num" style="font-size:13.44px">782. 2842</text>
<text transform="translate(537.8,370.8) rotate(-90)" class="num" style="font-size:13.44px">757. 2704</text>
<text transform="translate(559.8,337.8) rotate(-90)" class="num" style="font-size:13.44px">769. 7952</text>
<text transform="translate(552.8,427.4) rotate(-90)" class="num" style="font-size:13.44px">881. 3515</text>
<text transform="translate(570.2,435.4) rotate(-90)" class="num" style="font-size:13.44px">996. 3805</text>
<text transform="translate(585.6,408.5) rotate(-90)" class="num" style="font-size:12.72px">1053. 3987</text>
<text transform="translate(645.8,430.1) rotate(-90)" class="num" style="font-size:12.72px">1322. 4830</text>
<text x="364.7" y="346.6" class="ion" style="font-size:15.23px">y<tspan class="sub" style="font-size:10.08px" dy="4.5">1</tspan></text>
<text x="387" y="374.6" class="ion" style="font-size:15.23px">b<tspan class="sub" style="font-size:10.08px" dy="4.5">2</tspan></text>
<text x="399.7" y="297.4" class="ion" style="font-size:15.23px">y<tspan class="sub" style="font-size:10.08px" dy="4.5">2</tspan></text>
<text x="416.6" y="322.3" class="ion" style="font-size:15.23px">b<tspan class="sub" style="font-size:10.08px" dy="4.5">4</tspan></text>
<text x="434" y="294.0" class="ion" style="font-size:15.23px">y<tspan class="sub" style="font-size:10.08px" dy="4.5">3</tspan></text>
<text x="451.5" y="338.6" class="ion" style="font-size:15.23px">b<tspan class="sub" style="font-size:10.08px" dy="4.5">3</tspan></text>
<text x="469" y="337.0" class="ion" style="font-size:15.23px">y<tspan class="sub" style="font-size:10.08px" dy="4.5">4</tspan></text>
<text x="483.8" y="311.6" class="ion" style="font-size:15.23px">b<tspan class="sub" style="font-size:10.08px" dy="4.5">5</tspan></text>
<text x="497.2" y="364.0" class="ion" style="font-size:15.23px">y<tspan class="sub" style="font-size:10.08px" dy="4.5">5</tspan></text>
<text x="512" y="329.0" class="ion" style="font-size:15.23px">y<tspan class="sub" style="font-size:10.08px" dy="4.5">6</tspan></text>
<text x="527.2" y="306.2" class="ion" style="font-size:15.23px">b<tspan class="sub" style="font-size:10.08px" dy="4.5">7</tspan></text>
<text x="538.5" y="356.0" class="ion" style="font-size:15.23px">y<tspan class="sub" style="font-size:10.08px" dy="4.5">7</tspan></text>
<text x="559.5" y="366.7" class="ion" style="font-size:15.23px">y<tspan class="sub" style="font-size:10.08px" dy="4.5">8</tspan></text>
<text x="572" y="337.0" class="ion" style="font-size:15.23px">y<tspan class="sub" style="font-size:10.08px" dy="4.5">9</tspan></text>
<text x="631" y="358.7" class="ion" style="font-size:15.23px">y<tspan class="sub" style="font-size:10.08px" dy="4.5">10</tspan></text>
<text x="18.3" y="528" class="let">e</text>
<text transform="translate(11.1,678.8) rotate(-90)" class="ylab" style="font-size:11.60px"><tspan letter-spacing="1.77">Relative</tspan><tspan dx="5.55">Abundance</tspan></text>
<rect x="38.1" y="661.6" width="2.8" height="24.8" fill="#4f81bd"/>
<rect x="52.4" y="646.0" width="2.8" height="40.4" fill="#4f81bd"/>
<rect x="86.5" y="642.7" width="2.8" height="43.7" fill="#4f81bd"/>
<rect x="120.4" y="605.0" width="2.8" height="81.4" fill="#4f81bd"/>
<rect x="144.6" y="587.7" width="2.8" height="98.7" fill="#4f81bd"/>
<rect x="159.9" y="543.8" width="2.8" height="142.6" fill="#4f81bd"/>
<rect x="187.2" y="567.5" width="2.8" height="118.9" fill="#4f81bd"/>
<rect x="214.1" y="659.0" width="2.8" height="27.4" fill="#4f81bd"/>
<rect x="226.8" y="601.0" width="2.8" height="85.4" fill="#4f81bd"/>
<rect x="289.4" y="664.8" width="2.8" height="21.6" fill="#4f81bd"/>
<rect x="33.6" y="634.7" width="2.8" height="51.7" fill="#ff0000"/>
<rect x="55.1" y="675.0" width="2.8" height="11.4" fill="#ff0000"/>
<rect x="117.6" y="636.0" width="2.8" height="50.4" fill="#ff0000"/>
<rect x="130.9" y="666.4" width="2.8" height="20.0" fill="#ff0000"/>
<rect x="158.0" y="626.6" width="2.8" height="59.8" fill="#ff0000"/>
<rect x="159.1" y="621.0" width="2.8" height="65.4" fill="#00b050"/>
<rect x="173.8" y="656.2" width="2.8" height="30.2" fill="#00b050"/>
<line x1="35" y1="634.7" x2="35" y2="605" stroke="#ff0000" stroke-width="2.1" stroke-dasharray="7 5" class="dash"/>
<line x1="39.5" y1="661.6" x2="50.8" y2="583.6" stroke="#4f81bd" stroke-width="2.6" stroke-dasharray="6.5 4" class="dash"/>
<line x1="56.5" y1="675" x2="71.2" y2="626.6" stroke="#ff0000" stroke-width="2.1" stroke-dasharray="6.5 4" class="dash"/>
<line x1="119" y1="636" x2="107" y2="607.8" stroke="#ff0000" stroke-width="2.1" stroke-dasharray="6.5 4" class="dash"/>
<line x1="159.4" y1="626.6" x2="169.9" y2="589" stroke="#ff0000" stroke-width="2.1" stroke-dasharray="6.5 4" class="dash"/>
<line x1="160.5" y1="621" x2="201.3" y2="573" stroke="#92d050" stroke-width="2.3" stroke-dasharray="7 4" class="dash"/>
<line x1="175.2" y1="656.2" x2="253.7" y2="629.8" stroke="#92d050" stroke-width="2.3" stroke-dasharray="7 4" class="dash"/>
<line x1="28.7" y1="542.8" x2="28.7" y2="687.0" class="ax"/>
<line x1="28.1" y1="686.4" x2="342.7" y2="686.4" class="ax"/>
<path d="M25.1 686.4H28.7M26.4 683.5H28.7M26.4 680.7H28.7M26.4 677.8H28.7M26.4 675.0H28.7M25.9 672.1H28.7M26.4 669.3H28.7M26.4 666.4H28.7M26.4 663.6H28.7M26.4 660.7H28.7M25.1 657.9H28.7M26.4 655.0H28.7M26.4 652.2H28.7M26.4 649.3H28.7M26.4 646.5H28.7M25.9 643.6H28.7M26.4 640.8H28.7M26.4 637.9H28.7M26.4 635.1H28.7M26.4 632.2H28.7M25.1 629.4H28.7M26.4 626.5H28.7M26.4 623.7H28.7M26.4 620.8H28.7M26.4 618.0H28.7M25.9 615.1H28.7M26.4 612.2H28.7M26.4 609.4H28.7M26.4 606.5H28.7M26.4 603.7H28.7M25.1 600.8H28.7M26.4 598.0H28.7M26.4 595.1H28.7M26.4 592.3H28.7M26.4 589.4H28.7M25.9 586.6H28.7M26.4 583.7H28.7M26.4 580.9H28.7M26.4 578.0H28.7M26.4 575.2H28.7M25.1 572.3H28.7M26.4 569.5H28.7M26.4 566.6H28.7M26.4 563.8H28.7M26.4 560.9H28.7M25.9 558.1H28.7M26.4 555.2H28.7M26.4 552.4H28.7M26.4 549.5H28.7M26.4 546.7H28.7M25.1 543.8H28.7" class="tk"/>
<text x="26.0" y="689.7" class="tick" style="font-size:9.21px" text-anchor="end">0</text>
<text x="26.0" y="661.2" class="tick" style="font-size:9.21px" text-anchor="end">20</text>
<text x="26.0" y="632.7" class="tick" style="font-size:9.21px" text-anchor="end">40</text>
<text x="26.0" y="604.2" class="tick" style="font-size:9.21px" text-anchor="end">60</text>
<text x="26.0" y="575.6" class="tick" style="font-size:9.21px" text-anchor="end">80</text>
<text x="26.0" y="547.1" class="tick" style="font-size:9.21px" text-anchor="end">100</text>
<path d="M28.9 686.4V688.4M39.5 686.4V688.4M50.1 686.4V689.9M60.7 686.4V688.4M71.3 686.4V688.4M81.9 686.4V688.4M92.4 686.4V689.9M103.0 686.4V688.4M113.6 686.4V688.4M124.2 686.4V688.4M134.8 686.4V689.9M145.4 686.4V688.4M155.9 686.4V688.4M166.5 686.4V688.4M177.1 686.4V689.9M187.7 686.4V688.4M198.3 686.4V688.4M208.9 686.4V688.4M219.4 686.4V689.9M230.0 686.4V688.4M240.6 686.4V688.4M251.2 686.4V688.4M261.8 686.4V689.9M272.4 686.4V688.4M282.9 686.4V688.4M293.5 686.4V688.4M304.1 686.4V689.9M314.7 686.4V688.4M325.3 686.4V688.4M335.9 686.4V688.4" class="tk"/>
<text x="49.2" y="699.5" class="tick" style="font-size:9.21px" text-anchor="middle">200</text>
<text x="91.5" y="699.5" class="tick" style="font-size:9.21px" text-anchor="middle">400</text>
<text x="133.9" y="699.5" class="tick" style="font-size:9.21px" text-anchor="middle">600</text>
<text x="176.2" y="699.5" class="tick" style="font-size:9.21px" text-anchor="middle">800</text>
<text x="218.5" y="699.5" class="tick" style="font-size:9.21px" text-anchor="middle">1000</text>
<text x="260.9" y="699.5" class="tick" style="font-size:9.21px" text-anchor="middle">1200</text>
<text x="304.5" y="699.5" class="tick" style="font-size:9.21px" text-anchor="middle">1400</text>
<text x="165.7" y="715.0" class="mz" textLength="19.3" lengthAdjust="spacingAndGlyphs">m/z</text>
<text x="229.5" y="517.6" class="pep" textLength="107.5" lengthAdjust="spacingAndGlyphs">ETY*GEMADCCAK_VR(H)</text>
<rect x="178.4" y="478.3" width="91.4" height="19.9" class="box"/>
<rect x="201.3" y="509.7" width="17.5" height="56.5" class="box"/>
<rect x="235.4" y="540.6" width="78.8" height="21.4" class="box"/>
<rect x="249" y="564.8" width="17.6" height="60.5" class="box"/>
<text x="185.2" y="492.7" class="mtx" textLength="61.8" lengthAdjust="spacingAndGlyphs">[M-NH<tspan dy='2.5' font-size='8'>3</tspan><tspan dy='-2.5'>+2H]</tspan></text>
<text x="255" y="488.2" class="msup">2+</text>
<text x="243" y="557.2" class="mtx" textLength="49.7" lengthAdjust="spacingAndGlyphs">[M-H+2H]</text>
<text x="300.7" y="552.7" class="msup">2+</text>
<text transform="translate(41.9,605.8) rotate(-90)" class="num" style="font-size:11.88px">130. 0499</text>
<text transform="translate(56.7,578.8) rotate(-90)" class="num" style="font-size:11.88px">147. 1128</text>
<text transform="translate(59.9,644.8) rotate(-90)" class="num" style="font-size:11.88px">218. 1499</text>
<text transform="translate(75.5,626.1) rotate(-90)" class="num" style="font-size:11.88px">231. 0972</text>
<text transform="translate(93.0,642.2) rotate(-90)" class="num" style="font-size:11.88px">378. 1811</text>
<text transform="translate(108.6,608.8) rotate(-90)" class="num" style="font-size:11.88px">528. 2105</text>
<text transform="translate(127.7,603.2) rotate(-90)" class="num" style="font-size:11.88px">538. 2120</text>
<text transform="translate(138.7,665.1) rotate(-90)" class="num" style="font-size:11.88px">585. 2321</text>
<text transform="translate(152.1,587.1) rotate(-90)" class="num" style="font-size:11.88px">653. 2387</text>
<text transform="translate(166.9,542.8) rotate(-90)" class="num" style="font-size:11.88px">724. 2756</text>
<text transform="translate(177.7,587.1) rotate(-90)" class="num" style="font-size:11.88px">714. 2746</text>
<text transform="translate(193.5,565.6) rotate(-90)" class="num" style="font-size:11.88px">855. 3158</text>
<text transform="translate(214.3,563.8) rotate(-90)" class="num" style="font-size:11.88px">729. 1649</text>
<text transform="translate(233.9,600.5) rotate(-90)" class="num" style="font-size:12.18px">1041. 3787</text>
<text transform="translate(220.3,658.3) rotate(-90)" class="num" style="font-size:11.88px">984. 3577</text>
<text transform="translate(262.1,622.8) rotate(-90)" class="num" style="font-size:11.88px">784. 2650</text>
<text transform="translate(297.1,663.8) rotate(-90)" class="num" style="font-size:12.18px">1338. 4913</text>
<text x="30" y="546.6" class="ion" style="font-size:13.46px">b<tspan class="sub" style="font-size:8.91px" dy="4.0">1</tspan></text>
<text x="44.3" y="511.7" class="ion" style="font-size:13.46px">y<tspan class="sub" style="font-size:8.91px" dy="4.0">1</tspan></text>
<text x="51" y="585.6" class="ion" style="font-size:13.46px">y<tspan class="sub" style="font-size:8.91px" dy="4.0">2</tspan></text>
<text x="64.5" y="564.0" class="ion" style="font-size:13.46px">b<tspan class="sub" style="font-size:8.91px" dy="4.0">2</tspan></text>
<text x="84.9" y="583.0" class="ion" style="font-size:13.46px">y<tspan class="sub" style="font-size:8.91px" dy="4.0">3</tspan></text>
<text x="99.5" y="547.9" class="ion" style="font-size:13.46px">b<tspan class="sub" style="font-size:8.91px" dy="4.0">3</tspan></text>
<text x="117.5" y="540.0" class="ion" style="font-size:13.46px">y<tspan class="sub" style="font-size:8.91px" dy="4.0">4</tspan></text>
<text x="130.4" y="605.6" class="ion" style="font-size:13.46px">b<tspan class="sub" style="font-size:8.91px" dy="4.0">4</tspan></text>
<text x="139.8" y="525.0" class="ion" style="font-size:13.46px">y<tspan class="sub" style="font-size:8.91px" dy="4.0">5</tspan></text>
<text x="157.3" y="482.0" class="ion" style="font-size:13.46px">y<tspan class="sub" style="font-size:8.91px" dy="4.0">6</tspan></text>
<text x="168" y="526.4" class="ion" style="font-size:13.46px">b<tspan class="sub" style="font-size:8.91px" dy="4.0">5</tspan></text>
<text x="183.8" y="506.3" class="ion" style="font-size:13.46px">y<tspan class="sub" style="font-size:8.91px" dy="4.0">7</tspan></text>
<text x="222.3" y="535.0" class="ion" style="font-size:13.46px">y<tspan class="sub" style="font-size:8.91px" dy="4.0">9</tspan></text>
<text x="209.3" y="596.4" class="ion" style="font-size:13.46px">y<tspan class="sub" style="font-size:8.91px" dy="4.0">8</tspan></text>
<text x="284.6" y="596.4" class="ion" style="font-size:13.46px">y<tspan class="sub" style="font-size:8.91px" dy="4.0">10</tspan></text>
<text x="350.7" y="519" class="let">f</text>
<text transform="translate(337.2,675.7) rotate(-90)" class="ylab" style="font-size:12.99px"><tspan letter-spacing="1.98">Relative</tspan><tspan dx="6.21">Abundance</tspan></text>
<rect x="368.2" y="605.0" width="2.8" height="80.6" fill="#4f81bd"/>
<rect x="400.4" y="644.0" width="2.8" height="41.6" fill="#4f81bd"/>
<rect x="436.6" y="672.3" width="2.8" height="13.3" fill="#4f81bd"/>
<rect x="473.0" y="641.4" width="2.8" height="44.2" fill="#4f81bd"/>
<rect x="500.6" y="649.5" width="2.8" height="36.1" fill="#4f81bd"/>
<rect x="517.8" y="651.6" width="2.8" height="34.0" fill="#4f81bd"/>
<rect x="547.3" y="636.0" width="2.8" height="49.6" fill="#4f81bd"/>
<rect x="572.6" y="679.0" width="2.8" height="6.6" fill="#4f81bd"/>
<rect x="588.2" y="661.6" width="2.8" height="24.0" fill="#4f81bd"/>
<rect x="654.8" y="622.6" width="2.8" height="63.0" fill="#4f81bd"/>
<rect x="364.1" y="669.6" width="2.8" height="16.0" fill="#ff0000"/>
<rect x="389.1" y="671.0" width="2.8" height="14.6" fill="#ff0000"/>
<rect x="457.4" y="613.7" width="2.8" height="71.9" fill="#ff0000"/>
<rect x="384.3" y="558.0" width="2.8" height="127.6" fill="#00b050"/>
<rect x="398.3" y="649.5" width="2.8" height="36.1" fill="#00b050"/>
<line x1="399.7" y1="649.5" x2="425.5" y2="601" stroke="#00b050" stroke-width="2.1" stroke-dasharray="6.5 4" class="dash"/>
<line x1="360.4" y1="535.4" x2="360.4" y2="686.2" class="ax"/>
<line x1="359.8" y1="685.6" x2="706" y2="685.6" class="ax"/>
<path d="M356.8 685.6H360.4M358.1 682.6H360.4M358.1 679.6H360.4M358.1 676.6H360.4M358.1 673.7H360.4M357.6 670.7H360.4M358.1 667.7H360.4M358.1 664.7H360.4M358.1 661.7H360.4M358.1 658.7H360.4M356.8 655.8H360.4M358.1 652.8H360.4M358.1 649.8H360.4M358.1 646.8H360.4M358.1 643.8H360.4M357.6 640.8H360.4M358.1 637.9H360.4M358.1 634.9H360.4M358.1 631.9H360.4M358.1 628.9H360.4M356.8 625.9H360.4M358.1 622.9H360.4M358.1 620.0H360.4M358.1 617.0H360.4M358.1 614.0H360.4M357.6 611.0H360.4M358.1 608.0H360.4M358.1 605.0H360.4M358.1 602.0H360.4M358.1 599.1H360.4M356.8 596.1H360.4M358.1 593.1H360.4M358.1 590.1H360.4M358.1 587.1H360.4M358.1 584.1H360.4M357.6 581.2H360.4M358.1 578.2H360.4M358.1 575.2H360.4M358.1 572.2H360.4M358.1 569.2H360.4M356.8 566.2H360.4M358.1 563.3H360.4M358.1 560.3H360.4M358.1 557.3H360.4M358.1 554.3H360.4M357.6 551.3H360.4M358.1 548.3H360.4M358.1 545.4H360.4M358.1 542.4H360.4M358.1 539.4H360.4M356.8 536.4H360.4" class="tk"/>
<text x="348.0" y="689.5" class="tick" style="font-size:10.70px" text-anchor="middle">0</text>
<text x="348.0" y="659.6" class="tick" style="font-size:10.70px" text-anchor="middle">20</text>
<text x="348.0" y="629.8" class="tick" style="font-size:10.70px" text-anchor="middle">40</text>
<text x="348.0" y="599.9" class="tick" style="font-size:10.70px" text-anchor="middle">60</text>
<text x="348.0" y="570.1" class="tick" style="font-size:10.70px" text-anchor="middle">80</text>
<text x="348.0" y="540.3" class="tick" style="font-size:10.70px" text-anchor="middle">100</text>
<path d="M360.0 685.6V687.6M371.5 685.6V687.6M383.1 685.6V689.1M394.7 685.6V687.6M406.2 685.6V687.6M417.8 685.6V687.6M429.4 685.6V689.1M440.9 685.6V687.6M452.5 685.6V687.6M464.1 685.6V687.6M475.6 685.6V689.1M487.2 685.6V687.6M498.8 685.6V687.6M510.3 685.6V687.6M521.9 685.6V689.1M533.5 685.6V687.6M545.0 685.6V687.6M556.6 685.6V687.6M568.2 685.6V689.1M579.7 685.6V687.6M591.3 685.6V687.6M602.9 685.6V687.6M614.4 685.6V689.1M626.0 685.6V687.6M637.6 685.6V687.6M649.1 685.6V687.6M660.7 685.6V689.1M672.3 685.6V687.6M683.8 685.6V687.6M695.4 685.6V687.6" class="tk"/>
<text x="385.6" y="699.8" class="tick" style="font-size:10.70px" text-anchor="middle">200</text>
<text x="431.9" y="699.8" class="tick" style="font-size:10.70px" text-anchor="middle">400</text>
<text x="478.1" y="699.8" class="tick" style="font-size:10.70px" text-anchor="middle">600</text>
<text x="524.4" y="699.8" class="tick" style="font-size:10.70px" text-anchor="middle">800</text>
<text x="570.7" y="699.8" class="tick" style="font-size:10.70px" text-anchor="middle">1000</text>
<text x="616.9" y="699.8" class="tick" style="font-size:10.70px" text-anchor="middle">1200</text>
<text x="664.0" y="699.8" class="tick" style="font-size:10.70px" text-anchor="middle">1400</text>
<text x="512" y="715.5" class="mz" textLength="21.8" lengthAdjust="spacingAndGlyphs">m/z</text>
<text x="576.7" y="520.8" class="pep" textLength="119.8" lengthAdjust="spacingAndGlyphs">ETY*GDMADCCEK_Vs(B)</text>
<rect x="378.2" y="493.6" width="19.6" height="61.8" class="box"/>
<rect x="415.2" y="528.5" width="19.4" height="69.9" class="box"/>
<text transform="translate(376.7,603.2) rotate(-90)" class="num" style="font-size:13.80px">147. 1133</text>
<text transform="translate(371.9,669.1) rotate(-90)" class="num" style="font-size:13.80px">130. 0478</text>
<text transform="translate(393.0,552.8) rotate(-90)" class="num" style="font-size:13.80px">214. 0623</text>
<text transform="translate(394.0,667.8) rotate(-90)" class="num" style="font-size:13.80px">231. 0954</text>
<text transform="translate(410.3,640.8) rotate(-90)" class="num" style="font-size:13.80px">276. 1522</text>
<text transform="translate(430.0,595.8) rotate(-90)" class="num" style="font-size:13.80px">270. 1251</text>
<text transform="translate(443.4,672.7) rotate(-90)" class="num" style="font-size:13.80px">436. 1884</text>
<text transform="translate(465.4,609.8) rotate(-90)" class="num" style="font-size:13.80px">528. 2084</text>
<text transform="translate(482.0,639.5) rotate(-90)" class="num" style="font-size:13.80px">596. 2458</text>
<text transform="translate(507.6,648.8) rotate(-90)" class="num" style="font-size:13.80px">711. 2728</text>
<text transform="translate(526.4,650.3) rotate(-90)" class="num" style="font-size:13.80px">782. 3077</text>
<text transform="translate(555.6,632.8) rotate(-90)" class="num" style="font-size:13.80px">913. 3466</text>
<text transform="translate(580.3,677.1) rotate(-90)" class="num" style="font-size:13.02px">1028. 3735</text>
<text transform="translate(599.7,658.3) rotate(-90)" class="num" style="font-size:13.02px">1085. 3966</text>
<text transform="translate(662.0,619.4) rotate(-90)" class="num" style="font-size:13.02px">1382. 5081</text>
<text x="363.6" y="529.0" class="ion" style="font-size:15.64px">y<tspan class="sub" style="font-size:10.35px" dy="4.6">1</tspan></text>
<text x="361" y="603.0" class="ion" style="font-size:15.64px">b<tspan class="sub" style="font-size:10.35px" dy="4.6">1</tspan></text>
<text x="382.5" y="596.3" class="ion" style="font-size:15.64px">b<tspan class="sub" style="font-size:10.35px" dy="4.6">2</tspan></text>
<text x="397.8" y="575.0" class="ion" style="font-size:15.64px">y<tspan class="sub" style="font-size:10.35px" dy="4.6">2</tspan></text>
<text x="432.7" y="607.0" class="ion" style="font-size:15.64px">y<tspan class="sub" style="font-size:10.35px" dy="4.6">3</tspan></text>
<text x="454.2" y="543.9" class="ion" style="font-size:15.64px">b<tspan class="sub" style="font-size:10.35px" dy="4.6">3</tspan></text>
<text x="471.7" y="573.5" class="ion" style="font-size:15.64px">y<tspan class="sub" style="font-size:10.35px" dy="4.6">4</tspan></text>
<text x="497.2" y="581.6" class="ion" style="font-size:15.64px">y<tspan class="sub" style="font-size:10.35px" dy="4.6">5</tspan></text>
<text x="516" y="584.3" class="ion" style="font-size:15.64px">y<tspan class="sub" style="font-size:10.35px" dy="4.6">6</tspan></text>
<text x="543.9" y="565.5" class="ion" style="font-size:15.64px">y<tspan class="sub" style="font-size:10.35px" dy="4.6">7</tspan></text>
<text x="568.5" y="598.0" class="ion" style="font-size:15.64px">y<tspan class="sub" style="font-size:10.35px" dy="4.6">8</tspan></text>
<text x="589" y="583.0" class="ion" style="font-size:15.64px">y<tspan class="sub" style="font-size:10.35px" dy="4.6">9</tspan></text>
<text x="650" y="548.0" class="ion" style="font-size:15.64px">y<tspan class="sub" style="font-size:10.35px" dy="4.6">10</tspan></text>
<text x="18.0" y="781.6" class="let" style="font-family:'Liberation Serif',serif;font-size:14px">g</text>
<text transform="translate(14.9,939.5) rotate(-90)" class="ylab" style="font-size:12.33px"><tspan letter-spacing="1.88">Relative</tspan><tspan dx="5.90">Abundance</tspan></text>
<rect x="73.9" y="941.7" width="2.8" height="17.0" fill="#4f81bd"/>
<rect x="112.3" y="944.5" width="2.8" height="14.2" fill="#4f81bd"/>
<rect x="162.9" y="924.9" width="2.8" height="33.8" fill="#4f81bd"/>
<rect x="186.1" y="946.5" width="2.8" height="12.2" fill="#4f81bd"/>
<rect x="202.3" y="952.0" width="2.8" height="6.7" fill="#4f81bd"/>
<rect x="232.9" y="950.0" width="2.8" height="8.7" fill="#4f81bd"/>
<rect x="45.5" y="902.4" width="2.8" height="56.3" fill="#ff0000"/>
<rect x="64.6" y="941.7" width="2.8" height="17.0" fill="#ff0000"/>
<rect x="99.7" y="933.3" width="2.8" height="25.4" fill="#ff0000"/>
<rect x="115.6" y="921.0" width="2.8" height="37.7" fill="#ff0000"/>
<rect x="138.5" y="942.6" width="2.8" height="16.1" fill="#ff0000"/>
<rect x="168.5" y="945.9" width="2.8" height="12.8" fill="#ff0000"/>
<rect x="41.3" y="802.6" width="2.8" height="156.1" fill="#00b050"/>
<rect x="48.3" y="917.0" width="2.8" height="41.7" fill="#00b050"/>
<rect x="129.8" y="895.3" width="2.8" height="63.4" fill="#00b050"/>
<line x1="47" y1="902" x2="81.4" y2="839" stroke="#ff0000" stroke-width="2.1" stroke-dasharray="6.5 4" class="dash"/>
<line x1="117" y1="921" x2="153.9" y2="856" stroke="#ff0000" stroke-width="2.1" stroke-dasharray="6.5 4" class="dash"/>
<line x1="131.2" y1="895.3" x2="131.2" y2="850.4" stroke="#92d050" stroke-width="2.3" stroke-dasharray="7 5" class="dash"/>
<line x1="170" y1="946" x2="179.8" y2="875.7" stroke="#ff0000" stroke-width="2.1" stroke-dasharray="6.5 4" class="dash"/>
<line x1="36.7" y1="801.4" x2="36.7" y2="959.3" class="ax"/>
<line x1="36.1" y1="958.7" x2="346" y2="958.7" class="ax"/>
<path d="M33.1 958.7H36.7M34.4 955.6H36.7M34.4 952.4H36.7M34.4 949.3H36.7M34.4 946.2H36.7M33.9 943.1H36.7M34.4 939.9H36.7M34.4 936.8H36.7M34.4 933.7H36.7M34.4 930.6H36.7M33.1 927.4H36.7M34.4 924.3H36.7M34.4 921.2H36.7M34.4 918.1H36.7M34.4 914.9H36.7M33.9 911.8H36.7M34.4 908.7H36.7M34.4 905.6H36.7M34.4 902.4H36.7M34.4 899.3H36.7M33.1 896.2H36.7M34.4 893.1H36.7M34.4 889.9H36.7M34.4 886.8H36.7M34.4 883.7H36.7M33.9 880.5H36.7M34.4 877.4H36.7M34.4 874.3H36.7M34.4 871.2H36.7M34.4 868.0H36.7M33.1 864.9H36.7M34.4 861.8H36.7M34.4 858.7H36.7M34.4 855.5H36.7M34.4 852.4H36.7M33.9 849.3H36.7M34.4 846.2H36.7M34.4 843.0H36.7M34.4 839.9H36.7M34.4 836.8H36.7M33.1 833.7H36.7M34.4 830.5H36.7M34.4 827.4H36.7M34.4 824.3H36.7M34.4 821.2H36.7M33.9 818.0H36.7M34.4 814.9H36.7M34.4 811.8H36.7M34.4 808.7H36.7M34.4 805.5H36.7M33.1 802.4H36.7" class="tk"/>
<text x="22.7" y="962.4" class="tick" style="font-size:10.23px" text-anchor="middle">0</text>
<text x="22.7" y="931.1" class="tick" style="font-size:10.23px" text-anchor="middle">20</text>
<text x="22.7" y="899.9" class="tick" style="font-size:10.23px" text-anchor="middle">40</text>
<text x="22.7" y="868.6" class="tick" style="font-size:10.23px" text-anchor="middle">60</text>
<text x="22.7" y="837.3" class="tick" style="font-size:10.23px" text-anchor="middle">80</text>
<text x="22.7" y="806.1" class="tick" style="font-size:10.23px" text-anchor="middle">100</text>
<path d="M36.7 958.7V960.7M41.2 958.7V960.7M45.6 958.7V960.7M50.1 958.7V960.7M54.5 958.7V960.7M59.0 958.7V962.2M63.5 958.7V960.7M67.9 958.7V960.7M72.4 958.7V960.7M76.8 958.7V960.7M81.3 958.7V960.7M85.7 958.7V960.7M90.2 958.7V960.7M94.6 958.7V960.7M99.1 958.7V960.7M103.5 958.7V962.2M108.0 958.7V960.7M112.4 958.7V960.7M116.9 958.7V960.7M121.3 958.7V960.7M125.8 958.7V960.7M130.2 958.7V960.7M134.7 958.7V960.7M139.1 958.7V960.7M143.6 958.7V960.7M148.0 958.7V962.2M152.5 958.7V960.7M156.9 958.7V960.7M161.4 958.7V960.7M165.8 958.7V960.7M170.3 958.7V960.7M174.7 958.7V960.7M179.2 958.7V960.7M183.6 958.7V960.7M188.1 958.7V960.7M192.6 958.7V962.2M197.0 958.7V960.7M201.5 958.7V960.7M205.9 958.7V960.7M210.4 958.7V960.7M214.8 958.7V960.7M219.3 958.7V960.7M223.7 958.7V960.7M228.2 958.7V960.7M232.6 958.7V960.7M237.1 958.7V962.2M241.5 958.7V960.7M246.0 958.7V960.7M250.4 958.7V960.7M254.9 958.7V960.7M259.3 958.7V960.7M263.8 958.7V960.7M268.2 958.7V960.7M272.7 958.7V960.7M277.1 958.7V960.7M281.6 958.7V962.2M286.0 958.7V960.7M290.5 958.7V960.7M294.9 958.7V960.7M299.4 958.7V960.7M303.8 958.7V960.7M308.3 958.7V960.7M312.7 958.7V960.7M317.2 958.7V960.7M321.6 958.7V960.7M326.1 958.7V962.2M330.6 958.7V960.7M335.0 958.7V960.7M339.5 958.7V960.7M343.9 958.7V960.7" class="tk"/>
<text x="57.9" y="972.6" class="tick" style="font-size:10.23px" text-anchor="middle">200</text>
<text x="102.4" y="972.6" class="tick" style="font-size:10.23px" text-anchor="middle">400</text>
<text x="146.9" y="972.6" class="tick" style="font-size:10.23px" text-anchor="middle">600</text>
<text x="191.5" y="972.6" class="tick" style="font-size:10.23px" text-anchor="middle">800</text>
<text x="236.0" y="972.6" class="tick" style="font-size:10.23px" text-anchor="middle">1000</text>
<text x="280.5" y="972.6" class="tick" style="font-size:10.23px" text-anchor="middle">1200</text>
<text x="326.7" y="972.6" class="tick" style="font-size:10.23px" text-anchor="middle">1400</text>
<text x="162.4" y="985.0" class="mz" textLength="21.6" lengthAdjust="spacingAndGlyphs">m/z</text>
<text x="217" y="779.8" class="pep" textLength="117.8" lengthAdjust="spacingAndGlyphs">ETYGEMADC*CAK_Vs(B)</text>
<rect x="33.1" y="728.3" width="21.7" height="68.2" class="box"/>
<rect x="98.3" y="748.5" width="78.5" height="21.3" class="box"/>
<rect x="117.4" y="773.2" width="20.7" height="69.4" class="box"/>
<text x="109.5" y="765.0" class="mtx" textLength="38.0" lengthAdjust="spacingAndGlyphs">[M+2H]</text>
<text x="157.3" y="760.5" class="msup">2+</text>
<text transform="translate(48.8,793.8) rotate(-90)" class="num" style="font-size:13.20px">136. 1826</text>
<text transform="translate(89.0,831.5) rotate(-90)" class="num" style="font-size:13.20px">130. 0499</text>
<text transform="translate(132.6,839.8) rotate(-90)" class="num" style="font-size:13.20px">512. 8797</text>
<text transform="translate(160.6,852.6) rotate(-90)" class="num" style="font-size:13.20px">451. 1823</text>
<text transform="translate(184.6,875.1) rotate(-90)" class="num" style="font-size:13.20px">768. 2869</text>
<text transform="translate(54.3,900.5) rotate(-90)" class="num" style="font-size:13.20px">147. 1128</text>
<text transform="translate(69.7,939.4) rotate(-90)" class="num" style="font-size:13.20px">231. 0976</text>
<text transform="translate(82.7,937.0) rotate(-90)" class="num" style="font-size:13.20px">276. 1554</text>
<text transform="translate(105.1,929.8) rotate(-90)" class="num" style="font-size:13.20px">394. 1008</text>
<text transform="translate(117.3,939.2) rotate(-90)" class="num" style="font-size:13.20px">394. 1008</text>
<text transform="translate(148.1,938.3) rotate(-90)" class="num" style="font-size:13.20px">566. 2093</text>
<text transform="translate(171.1,922.8) rotate(-90)" class="num" style="font-size:13.20px">670. 2721</text>
<text transform="translate(192.3,945.3) rotate(-90)" class="num" style="font-size:13.20px">785. 2990</text>
<text transform="translate(208.5,950.8) rotate(-90)" class="num" style="font-size:13.20px">856. 3362</text>
<text transform="translate(240.0,947.8) rotate(-90)" class="num" style="font-size:13.20px">987. 3766</text>
<text x="75.8" y="769.4" class="ion" style="font-size:14.96px">b<tspan class="sub" style="font-size:9.90px" dy="4.4">1</tspan></text>
<text x="149.4" y="789.9" class="ion" style="font-size:14.96px">b<tspan class="sub" style="font-size:9.90px" dy="4.4">4</tspan></text>
<text x="172.7" y="807.2" class="ion" style="font-size:14.96px">b<tspan class="sub" style="font-size:9.90px" dy="4.4">6</tspan></text>
<text x="41.6" y="830.0" class="ion" style="font-size:14.96px">y<tspan class="sub" style="font-size:9.90px" dy="4.4">1</tspan></text>
<text x="59" y="868.6" class="ion" style="font-size:14.96px">b<tspan class="sub" style="font-size:9.90px" dy="4.4">2</tspan></text>
<text x="73.6" y="866.0" class="ion" style="font-size:14.96px">y<tspan class="sub" style="font-size:9.90px" dy="4.4">2</tspan></text>
<text x="95" y="866.3" class="ion" style="font-size:14.96px">b<tspan class="sub" style="font-size:9.90px" dy="4.4">3</tspan></text>
<text x="108" y="874.9" class="ion" style="font-size:14.96px">y<tspan class="sub" style="font-size:9.90px" dy="4.4">3</tspan></text>
<text x="136.8" y="873.3" class="ion" style="font-size:14.96px">b<tspan class="sub" style="font-size:9.90px" dy="4.4">5</tspan></text>
<text x="159.3" y="853.8" class="ion" style="font-size:14.96px">y<tspan class="sub" style="font-size:9.90px" dy="4.4">4</tspan></text>
<text x="180.4" y="877.7" class="ion" style="font-size:14.96px">y<tspan class="sub" style="font-size:9.90px" dy="4.4">5</tspan></text>
<text x="197.3" y="880.5" class="ion" style="font-size:14.96px">y<tspan class="sub" style="font-size:9.90px" dy="4.4">6</tspan></text>
<text x="229.6" y="880.5" class="ion" style="font-size:14.96px">y<tspan class="sub" style="font-size:9.90px" dy="4.4">7</tspan></text>
<text x="351.2" y="784.8" class="let">h</text>
<text transform="translate(346.3,938.5) rotate(-90)" class="ylab" style="font-size:12.52px"><tspan letter-spacing="1.90">Relative</tspan><tspan dx="5.99">Abundance</tspan></text>
<rect x="374.6" y="903.7" width="2.8" height="55.1" fill="#4f81bd"/>
<rect x="390.6" y="940.7" width="2.8" height="18.1" fill="#4f81bd"/>
<rect x="426.2" y="908.0" width="2.8" height="50.8" fill="#4f81bd"/>
<rect x="482.6" y="947.2" width="2.8" height="11.6" fill="#4f81bd"/>
<rect x="512.6" y="936.8" width="2.8" height="22.0" fill="#4f81bd"/>
<rect x="531.0" y="952.8" width="2.8" height="6.0" fill="#4f81bd"/>
<rect x="557.6" y="944.4" width="2.8" height="14.4" fill="#4f81bd"/>
<rect x="371.6" y="895.0" width="2.8" height="63.8" fill="#ff0000"/>
<rect x="392.8" y="938.7" width="2.8" height="20.1" fill="#ff0000"/>
<rect x="429.8" y="933.0" width="2.8" height="25.8" fill="#ff0000"/>
<rect x="446.1" y="918.3" width="2.8" height="40.5" fill="#ff0000"/>
<rect x="473.3" y="888.2" width="2.8" height="70.6" fill="#ff0000"/>
<rect x="502.2" y="905.0" width="2.8" height="53.8" fill="#ff0000"/>
<rect x="369.2" y="799.3" width="2.8" height="159.5" fill="#00b050"/>
<rect x="375.9" y="912.0" width="2.8" height="46.8" fill="#00b050"/>
<rect x="460.7" y="889.6" width="2.8" height="69.2" fill="#00b050"/>
<line x1="373" y1="895" x2="417.2" y2="823.7" stroke="#ff0000" stroke-width="2.1" stroke-dasharray="6.5 4" class="dash"/>
<line x1="377.3" y1="912" x2="392" y2="842" stroke="#92d050" stroke-width="2.3" stroke-dasharray="7 4" class="dash"/>
<line x1="379" y1="906" x2="430" y2="832" stroke="#92d050" stroke-width="2.3" stroke-dasharray="7 4" class="dash"/>
<line x1="394.2" y1="938.7" x2="414.4" y2="924.7" stroke="#ff0000" stroke-width="2.1" stroke-dasharray="6.5 4" class="dash"/>
<line x1="431.2" y1="933" x2="455" y2="905" stroke="#ff0000" stroke-width="2.1" stroke-dasharray="6.5 4" class="dash"/>
<line x1="462.1" y1="889.6" x2="465" y2="825" stroke="#92d050" stroke-width="2.3" stroke-dasharray="7 4" class="dash"/>
<line x1="365.8" y1="797.9" x2="365.8" y2="959.4" class="ax"/>
<line x1="365.2" y1="958.8" x2="704.5" y2="958.8" class="ax"/>
<path d="M362.2 958.8H365.8M363.5 955.6H365.8M363.5 952.4H365.8M363.5 949.2H365.8M363.5 946.0H365.8M363.0 942.8H365.8M363.5 939.6H365.8M363.5 936.4H365.8M363.5 933.2H365.8M363.5 930.0H365.8M362.2 926.8H365.8M363.5 923.6H365.8M363.5 920.4H365.8M363.5 917.2H365.8M363.5 914.0H365.8M363.0 910.8H365.8M363.5 907.6H365.8M363.5 904.4H365.8M363.5 901.2H365.8M363.5 898.0H365.8M362.2 894.8H365.8M363.5 891.6H365.8M363.5 888.4H365.8M363.5 885.2H365.8M363.5 882.0H365.8M363.0 878.8H365.8M363.5 875.7H365.8M363.5 872.5H365.8M363.5 869.3H365.8M363.5 866.1H365.8M362.2 862.9H365.8M363.5 859.7H365.8M363.5 856.5H365.8M363.5 853.3H365.8M363.5 850.1H365.8M363.0 846.9H365.8M363.5 843.7H365.8M363.5 840.5H365.8M363.5 837.3H365.8M363.5 834.1H365.8M362.2 830.9H365.8M363.5 827.7H365.8M363.5 824.5H365.8M363.5 821.3H365.8M363.5 818.1H365.8M363.0 814.9H365.8M363.5 811.7H365.8M363.5 808.5H365.8M363.5 805.3H365.8M363.5 802.1H365.8M362.2 798.9H365.8" class="tk"/>
<text x="356.5" y="962.5" class="tick" style="font-size:10.27px" text-anchor="middle">0</text>
<text x="356.5" y="930.5" class="tick" style="font-size:10.27px" text-anchor="middle">20</text>
<text x="356.5" y="898.5" class="tick" style="font-size:10.27px" text-anchor="middle">40</text>
<text x="356.5" y="866.6" class="tick" style="font-size:10.27px" text-anchor="middle">60</text>
<text x="356.5" y="834.6" class="tick" style="font-size:10.27px" text-anchor="middle">80</text>
<text x="356.5" y="802.6" class="tick" style="font-size:10.27px" text-anchor="middle">100</text>
<path d="M365.3 958.8V960.8M369.9 958.8V960.8M374.4 958.8V960.8M379.0 958.8V960.8M383.5 958.8V960.8M388.1 958.8V962.3M392.7 958.8V960.8M397.2 958.8V960.8M401.8 958.8V960.8M406.3 958.8V960.8M410.9 958.8V960.8M415.4 958.8V960.8M420.0 958.8V960.8M424.5 958.8V960.8M429.1 958.8V960.8M433.6 958.8V962.3M438.2 958.8V960.8M442.7 958.8V960.8M447.3 958.8V960.8M451.8 958.8V960.8M456.4 958.8V960.8M460.9 958.8V960.8M465.5 958.8V960.8M470.0 958.8V960.8M474.6 958.8V960.8M479.1 958.8V962.3M483.7 958.8V960.8M488.2 958.8V960.8M492.8 958.8V960.8M497.3 958.8V960.8M501.9 958.8V960.8M506.4 958.8V960.8M511.0 958.8V960.8M515.5 958.8V960.8M520.1 958.8V960.8M524.7 958.8V962.3M529.2 958.8V960.8M533.8 958.8V960.8M538.3 958.8V960.8M542.9 958.8V960.8M547.4 958.8V960.8M552.0 958.8V960.8M556.5 958.8V960.8M561.1 958.8V960.8M565.6 958.8V960.8M570.2 958.8V962.3M574.7 958.8V960.8M579.3 958.8V960.8M583.8 958.8V960.8M588.4 958.8V960.8M592.9 958.8V960.8M597.5 958.8V960.8M602.0 958.8V960.8M606.6 958.8V960.8M611.1 958.8V960.8M615.7 958.8V962.3M620.2 958.8V960.8M624.8 958.8V960.8M629.3 958.8V960.8M633.9 958.8V960.8M638.4 958.8V960.8M643.0 958.8V960.8M647.5 958.8V960.8M652.1 958.8V960.8M656.6 958.8V960.8M661.2 958.8V962.3M665.8 958.8V960.8M670.3 958.8V960.8M674.9 958.8V960.8M679.4 958.8V960.8M684.0 958.8V960.8M688.5 958.8V960.8M693.1 958.8V960.8M697.6 958.8V960.8M702.2 958.8V960.8" class="tk"/>
<text x="387.0" y="972.7" class="tick" style="font-size:10.27px" text-anchor="middle">200</text>
<text x="432.5" y="972.7" class="tick" style="font-size:10.27px" text-anchor="middle">400</text>
<text x="478.0" y="972.7" class="tick" style="font-size:10.27px" text-anchor="middle">600</text>
<text x="523.6" y="972.7" class="tick" style="font-size:10.27px" text-anchor="middle">800</text>
<text x="569.1" y="972.7" class="tick" style="font-size:10.27px" text-anchor="middle">1000</text>
<text x="614.6" y="972.7" class="tick" style="font-size:10.27px" text-anchor="middle">1200</text>
<text x="661.9" y="972.7" class="tick" style="font-size:10.27px" text-anchor="middle">1400</text>
<text x="491.6" y="985.0" class="mz" textLength="19.4" lengthAdjust="spacingAndGlyphs">m/z</text>
<text x="546.5" y="781.2" class="pep" textLength="119.3" lengthAdjust="spacingAndGlyphs">ETYGEMADC*CAK_VX(H)</text>
<rect x="361.9" y="721.8" width="22.1" height="73.8" class="box"/>
<rect x="384.3" y="768.4" width="21.7" height="71.3" class="box"/>
<rect x="433.5" y="720.4" width="83.3" height="21.0" class="box"/>
<rect x="427.6" y="750.7" width="21.9" height="71.6" class="box"/>
<rect x="453.2" y="745" width="22.9" height="71.0" class="box"/>
<text x="448" y="735.5" class="mtx" textLength="39.5" lengthAdjust="spacingAndGlyphs">[M+2H]</text>
<text x="495.9" y="731.0" class="msup">2+</text>
<text transform="translate(377.8,792.8) rotate(-90)" class="num" style="font-size:13.25px">136. 1832</text>
<text transform="translate(399.8,836.8) rotate(-90)" class="num" style="font-size:13.25px">160. 1156</text>
<text transform="translate(424.8,821.8) rotate(-90)" class="num" style="font-size:13.25px">130. 0498</text>
<text transform="translate(443.3,818.8) rotate(-90)" class="num" style="font-size:13.25px">128. 2388</text>
<text transform="translate(469.4,812.8) rotate(-90)" class="num" style="font-size:13.25px">512. 8797</text>
<text transform="translate(382.5,894.2) rotate(-90)" class="num" style="font-size:13.25px">147. 1128</text>
<text transform="translate(396.4,938.5) rotate(-90)" class="num" style="font-size:13.25px">218. 1499</text>
<text transform="translate(416.4,921.3) rotate(-90)" class="num" style="font-size:13.25px">231. 0976</text>
<text transform="translate(431.9,901.8) rotate(-90)" class="num" style="font-size:13.25px">378. 1506</text>
<text transform="translate(448.7,921.3) rotate(-90)" class="num" style="font-size:13.25px">394. 1609</text>
<text transform="translate(462.1,905.8) rotate(-90)" class="num" style="font-size:13.25px">451. 1823</text>
<text transform="translate(482.3,886.2) rotate(-90)" class="num" style="font-size:13.25px">580. 2249</text>
<text transform="translate(493.6,943.8) rotate(-90)" class="num" style="font-size:13.25px">640. 3002</text>
<text transform="translate(510.5,903.1) rotate(-90)" class="num" style="font-size:13.25px">711. 2654</text>
<text transform="translate(524.5,935.3) rotate(-90)" class="num" style="font-size:13.25px">755. 3328</text>
<text transform="translate(539.2,952.2) rotate(-90)" class="num" style="font-size:13.25px">826. 3649</text>
<text transform="translate(565.3,942.4) rotate(-90)" class="num" style="font-size:13.25px">957. 3977</text>
<text x="413.5" y="756.6" class="ion" style="font-size:15.01px">b<tspan class="sub" style="font-size:9.94px" dy="4.4">1</tspan></text>
<text x="372" y="828.0" class="ion" style="font-size:15.01px">y<tspan class="sub" style="font-size:9.94px" dy="4.4">1</tspan></text>
<text x="386.5" y="865.0" class="ion" style="font-size:15.01px">y<tspan class="sub" style="font-size:9.94px" dy="4.4">2</tspan></text>
<text x="406" y="855.0" class="ion" style="font-size:15.01px">b<tspan class="sub" style="font-size:9.94px" dy="4.4">2</tspan></text>
<text x="422" y="834.0" class="ion" style="font-size:15.01px">y<tspan class="sub" style="font-size:9.94px" dy="4.4">3</tspan></text>
<text x="436.8" y="856.4" class="ion" style="font-size:15.01px">b<tspan class="sub" style="font-size:9.94px" dy="4.4">3</tspan></text>
<text x="449.5" y="839.6" class="ion" style="font-size:15.01px">b<tspan class="sub" style="font-size:9.94px" dy="4.4">4</tspan></text>
<text x="471.4" y="822.6" class="ion" style="font-size:15.01px">b<tspan class="sub" style="font-size:9.94px" dy="4.4">5</tspan></text>
<text x="483.2" y="872.0" class="ion" style="font-size:15.01px">y<tspan class="sub" style="font-size:9.94px" dy="4.4">4</tspan></text>
<text x="498.6" y="833.9" class="ion" style="font-size:15.01px">b<tspan class="sub" style="font-size:9.94px" dy="4.4">6</tspan></text>
<text x="514" y="865.0" class="ion" style="font-size:15.01px">y<tspan class="sub" style="font-size:9.94px" dy="4.4">5</tspan></text>
<text x="528.2" y="884.6" class="ion" style="font-size:15.01px">y<tspan class="sub" style="font-size:9.94px" dy="4.4">6</tspan></text>
<text x="554" y="873.4" class="ion" style="font-size:15.01px">y<tspan class="sub" style="font-size:9.94px" dy="4.4">7</tspan></text>
</svg></body></html>
